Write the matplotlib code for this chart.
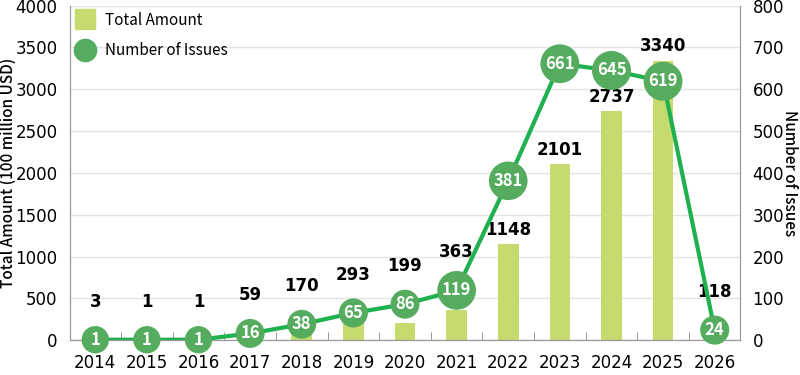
import matplotlib.pyplot as plt
import numpy as np

plt.rcParams['font.family'] = ['DejaVu Sans']

anos = ["2014", "2015", "2016", "2017", "2018", "2019", "2020",
        "2021", "2022", "2023", "2024", "2025", "2026"]
montante = [3, 1, 1, 59, 170, 293, 199, 363, 1148, 2101, 2737, 3340, 118]
emissoes = [1, 1, 1, 16, 38, 65, 86, 119, 381, 661, 645, 619, 24]

cor_barra = "#c5da6f"
cor_circulo = "#55ac5e"
cor_linha = "#1fb14f"
fonte_jp = ['Noto Sans CJK JP', 'DejaVu Sans']

x = np.arange(len(anos))

fig, ax = plt.subplots(figsize=(8, 3.75), dpi=100)
fig.subplots_adjust(left=0.0875, right=0.925, top=0.985, bottom=0.093)
ax2 = ax.twinx()

ax.bar(x, montante, 0.4, color=cor_barra, zorder=2, label="Total Amount")
ax.set_ylim(0, 4000)
ax.set_xlim(-0.49, 12.49)
ax.set_yticks(np.arange(0, 4001, 500))
ax.grid(axis="y", color="#e3e3e3", linewidth=1, zorder=0)
ax.set_axisbelow(True)

ax2.plot(x, emissoes, color=cor_linha, linewidth=3, zorder=3)
ax2.set_ylim(0, 800)
ax2.set_yticks(np.arange(0, 801, 100))

for i, v in enumerate(emissoes):
    ax2.text(i, v, str(v), ha="center", va="center", color="white",
             fontsize=12, fontweight="bold", family=fonte_jp, zorder=5,
             bbox=dict(boxstyle="circle,pad=0.28", fc=cor_circulo, ec="none"))

# rotulos dos montantes: acima da barra, ou acima do circulo quando ele tapa
for i, (m, e) in enumerate(zip(montante, emissoes)):
    e_esq = e * 5
    if 0 < e_esq - m < 300:
        y, off = e_esq, 21
    else:
        y, off = m, 4
    ax.annotate(str(m), (i, y), xytext=(0, off), textcoords="offset points",
                ha="center", va="bottom", fontsize=12, fontweight="bold",
                color="black", zorder=6)

ax.set_xticks(x, anos)
ax.set_xticks(x[:-1] + 0.5, minor=True)
ax.tick_params(axis="x", which="major", length=0, labelsize=12, pad=10)
ax.tick_params(axis="x", which="minor", direction="in", length=6, color="#888888")
ax.tick_params(axis="y", length=0, labelsize=12, pad=9)
ax2.tick_params(axis="y", length=0, labelsize=12, pad=9)

for a in (ax, ax2):
    a.spines["top"].set_visible(False)
    for s in ("left", "right", "bottom"):
        a.spines[s].set_color("#999999")

ax.set_ylabel("Total Amount (100 million USD)", fontsize=11, family=fonte_jp,
              fontweight="medium", va="center")
ax.yaxis.set_label_coords(-0.092, 0.5)
ax2.set_ylabel("Number of Issues", fontsize=11, family=fonte_jp,
               fontweight="medium", rotation=270, va="center")
ax2.yaxis.set_label_coords(1.074, 0.5)

h1 = plt.Line2D([], [], marker="s", color=cor_barra, linestyle="none", markersize=14)
h2 = plt.Line2D([], [], marker="o", color=cor_circulo, linestyle="none", markersize=16)
ax.legend([h1, h2], ["Total Amount", "Number of Issues"], loc="upper left",
          frameon=False, prop={"family": fonte_jp, "size": 11},
          handlelength=1.2, handletextpad=0.7, labelspacing=0.9,
          borderaxespad=0.1, borderpad=0.3)

fig.savefig("out.png")
